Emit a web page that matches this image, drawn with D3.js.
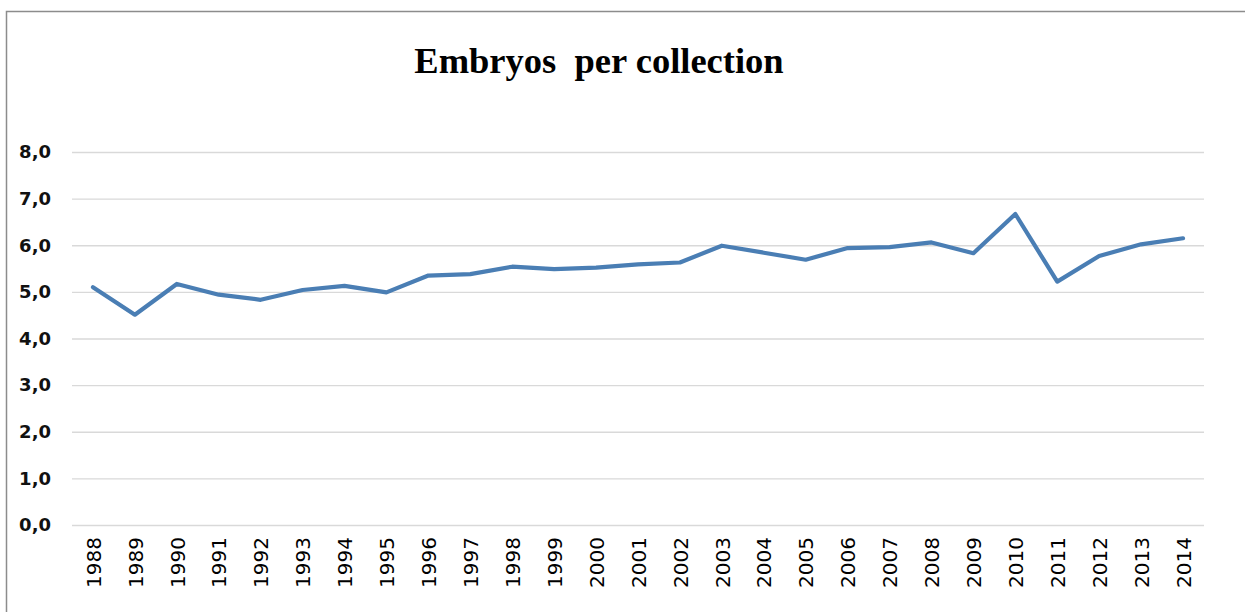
<!DOCTYPE html>
<html>
<head>
<meta charset="utf-8">
<script src="https://cdn.jsdelivr.net/npm/d3@7"></script>
<style>
  body { margin: 0; background: #fff; }
  svg { display: block; }
</style>
</head>
<body>
<div id="chart"></div>
<script>
const years = ['1988', '1989', '1990', '1991', '1992', '1993', '1994', '1995', '1996',
  '1997', '1998', '1999', '2000', '2001', '2002', '2003', '2004', '2005', '2006',
  '2007', '2008', '2009', '2010', '2011', '2012', '2013', '2014']
const embryos = [5.10, 4.51, 5.17, 4.94, 4.83, 5.04, 5.13, 4.99, 5.35,
  5.38, 5.54, 5.49, 5.52, 5.59, 5.63, 5.99, 5.84, 5.69, 5.94,
  5.96, 6.06, 5.83, 6.67, 5.22, 5.77, 6.02, 6.15]
const yTicks = [0, 1, 2, 3, 4, 5, 6, 7, 8]
const title = 'Embryos  per collection'

const w = 1245
const h = 612
const margin = { top: 152, right: 41, bottom: 87, left: 72 }

const svg = d3.select('#chart')
  .append('svg')
  .attr('width', w)
  .attr('height', h)

// outer chart frame
svg.append('rect')
  .attr('x', 6.5)
  .attr('y', 11.5)
  .attr('width', w + 20)
  .attr('height', h + 20)
  .attr('fill', 'none')
  .attr('stroke', '#8c8c8c')
  .attr('stroke-width', 1.5)

const x = d3.scalePoint()
  .domain(years)
  .range([margin.left, w - margin.right])
  .padding(0.5)

const y = d3.scaleLinear()
  .domain([0, 8])
  .range([h - margin.bottom, margin.top])

svg.append('text')
  .attr('x', 599)
  .attr('y', 73)
  .attr('text-anchor', 'middle')
  .style('white-space', 'pre')
  .style('font-family', '"Liberation Serif", "Times New Roman", serif')
  .style('font-weight', 'bold')
  .style('font-size', '36.5px')
  .attr('fill', '#000')
  .text(title)

// gridlines + y labels
const yAxis = svg.append('g')
  .attr('transform', `translate(${margin.left},0)`)
  .call(d3.axisLeft(y)
    .tickValues(yTicks)
    .tickSize(-(w - margin.left - margin.right))
    .tickPadding(21)
    .tickFormat(d => d3.format('.1f')(d).replace('.', ',')))

yAxis.select('.domain').remove()
yAxis.selectAll('line')
  .attr('stroke', '#d9d9d9')
  .attr('stroke-width', 1.3)
yAxis.selectAll('text')
  .style('font-family', '"DejaVu Sans", sans-serif')
  .style('font-weight', 'bold')
  .style('font-size', '18px')
  .attr('fill', '#111')

// x labels, rotated
const xAxis = svg.append('g')
  .attr('transform', `translate(0,${h - margin.bottom})`)
  .call(d3.axisBottom(x).tickSize(0).tickPadding(0))

xAxis.select('.domain').remove()
xAxis.selectAll('text')
  .attr('transform', 'translate(0,12) rotate(-90)')
  .attr('text-anchor', 'end')
  .attr('x', 0)
  .attr('y', 0)
  .attr('dy', '0.36em')
  .style('font-family', '"DejaVu Sans", sans-serif')
  .style('font-size', '20px')
  .attr('fill', '#000')

const line = d3.line()
  .x((d, i) => x(years[i]))
  .y(d => y(d))

svg.append('path')
  .datum(embryos)
  .attr('fill', 'none')
  .attr('stroke', '#4a7eb4')
  .attr('stroke-width', 4.2)
  .attr('stroke-linejoin', 'round')
  .attr('stroke-linecap', 'round')
  .attr('d', line)
</script>
</body>
</html>
